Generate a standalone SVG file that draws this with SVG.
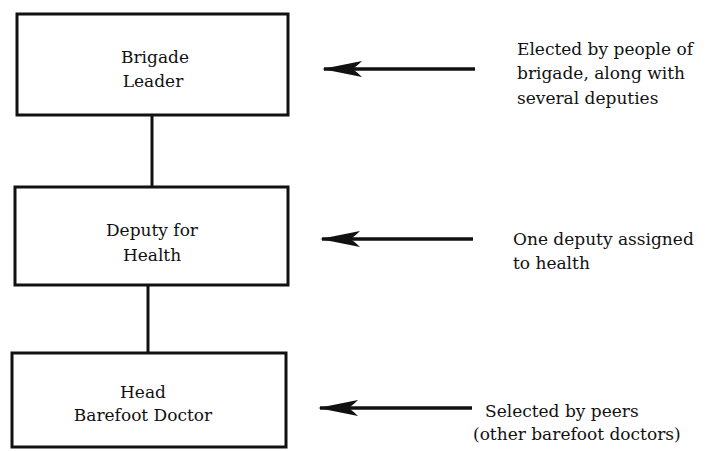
<svg xmlns="http://www.w3.org/2000/svg" width="726" height="451" viewBox="0 0 726 451">
<style>
.box{fill:#fff;stroke:#111;stroke-width:3}
.con{stroke:#111;stroke-width:3;fill:none}
.arr{stroke:#111;stroke-width:3.4;fill:none}
.t{font-family:"DejaVu Serif","Liberation Serif",serif;font-size:17px;fill:#111}
.c{text-anchor:middle}
</style>
<defs>
<marker id="ah" markerUnits="userSpaceOnUse" markerWidth="42" markerHeight="20" refX="40" refY="10" orient="auto" viewBox="0 0 42 20">
<path d="M42,10 L2,2 Q8,8 12,10 Q8,12 2,18 Z" fill="#111"/>
</marker>
</defs>
<rect width="726" height="451" fill="#fff"/>
<g id="connectors">
<line class="con" x1="152" y1="115" x2="152" y2="187"/>
<line class="con" x1="148" y1="285" x2="148" y2="353"/>
<line class="arr" x1="475" y1="69" x2="324" y2="69" marker-end="url(#ah)"/>
<line class="arr" x1="473" y1="239" x2="322" y2="239" marker-end="url(#ah)"/>
<line class="arr" x1="472" y1="408" x2="320" y2="408" marker-end="url(#ah)"/>
</g>
<g id="brigade-leader">
<rect class="box" x="17" y="14" width="271" height="101"/>
<text class="t c" x="155" y="63">Brigade</text>
<text class="t c" x="153" y="87">Leader</text>
</g>
<g id="deputy-health">
<rect class="box" x="15" y="187" width="273" height="98"/>
<text class="t c" x="152" y="236">Deputy for</text>
<text class="t c" x="152" y="261">Health</text>
</g>
<g id="head-barefoot">
<rect class="box" x="12" y="353" width="274" height="94"/>
<text class="t c" x="143" y="398">Head</text>
<text class="t c" x="143" y="421">Barefoot Doctor</text>
</g>
<g id="note-1">
<text class="t" x="517" y="55">Elected by people of</text>
<text class="t" x="517" y="79">brigade, along with</text>
<text class="t" x="517" y="104">several deputies</text>
</g>
<g id="note-2">
<text class="t" x="513" y="245">One deputy assigned</text>
<text class="t" x="513" y="269">to health</text>
</g>
<g id="note-3">
<text class="t" x="485" y="417">Selected by peers</text>
<text class="t" x="473" y="440">(other barefoot doctors)</text>
</g>
</svg>
